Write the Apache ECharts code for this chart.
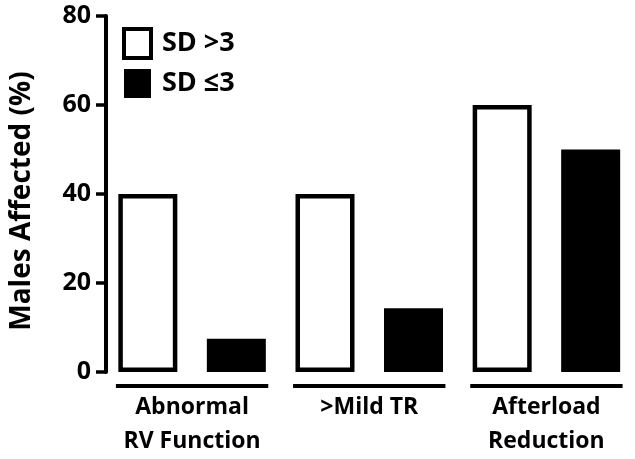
<!DOCTYPE html>
<html>
<head>
<meta charset="utf-8">
<script src="https://cdn.jsdelivr.net/npm/echarts@6/dist/echarts.min.js"></script>
<style>html,body{margin:0;padding:0;background:#fff;}#c{width:635px;height:459px;}</style>
</head>
<body>
<div id="c"></div>
<script>
var categories = ['Abnormal\nRV Function', '>Mild TR', 'Afterload\nReduction'];
var seriesNames = ['SD >3', 'SD \u22643'];
var sdAbove3 = [40, 40, 60];
var sdAtMost3 = [7.5, 14.3, 50];
var yTicks = [0, 20, 40, 60, 80];
var yTitle = 'Males Affected (%)';

var FONT = '"Open Sans", sans-serif';
var chart = echarts.init(document.getElementById('c'), null, {renderer: 'canvas'});
chart.setOption({
  animation: false,
  backgroundColor: '#fff',
  grid: {left: 102.5, right: -5, top: 16, bottom: 87, containLabel: false},
  legend: {
    orient: 'vertical', left: 122, top: 27, padding: 0, itemWidth: 27, itemHeight: 29, itemGap: 9,
    textStyle: {fontFamily: FONT, fontWeight: 'bold', fontSize: 27, color: '#000', padding: [0, 0, 0, 6]},
    data: [
      {name: seriesNames[0], icon: 'rect', itemStyle: {color: '#fff', borderColor: '#000', borderWidth: 4}},
      {name: seriesNames[1], icon: 'rect', itemStyle: {color: '#000', borderColor: '#000', borderWidth: 0}}
    ]
  },
  xAxis: {
    type: 'category', data: categories,
    axisLine: {show: false}, axisTick: {show: false},
    axisLabel: {interval: 0, margin: 18, fontFamily: FONT, fontWeight: 'bold', fontSize: 23, lineHeight: 34, color: '#000'}
  },
  yAxis: {
    type: 'value', min: yTicks[0], max: yTicks[yTicks.length - 1], interval: 20, offset: -2.5,
    name: yTitle, nameLocation: 'middle', nameGap: 70,
    nameTextStyle: {fontFamily: FONT, fontWeight: 'bold', fontSize: 28, color: '#000', padding: [0, 14, 0, 0]},
    axisLine: {show: true, lineStyle: {color: '#000', width: 4}},
    axisTick: {show: true, length: 10, lineStyle: {color: '#000', width: 3.5}},
    axisLabel: {margin: 15, fontFamily: FONT, fontWeight: 'bold', fontSize: 25, color: '#000'},
    splitLine: {show: false}
  },
  series: [
    {
      name: seriesNames[0], type: 'bar', data: sdAbove3, barWidth: 59, barGap: '50%',
      itemStyle: {color: '#fff', borderColor: '#000', borderWidth: 4.5}
    },
    {
      name: seriesNames[1], type: 'bar', data: sdAtMost3, barWidth: 59,
      itemStyle: {color: '#000', borderColor: '#000', borderWidth: 4.5}
    },
    {
      type: 'custom', silent: true, clip: false,
      data: categories.map(function (c, i) { return [i, 0]; }),
      renderItem: function (params, api) {
        var p = api.coord([api.value(0), 0]);
        var w = api.size([1, 0])[0];
        var half = w * 0.43;
        return {
          type: 'line',
          shape: {x1: p[0] - half, y1: p[1] + 14, x2: p[0] + half, y2: p[1] + 14},
          style: {stroke: '#000', lineWidth: 4}
        };
      }
    }
  ]
});
</script>
</body>
</html>
